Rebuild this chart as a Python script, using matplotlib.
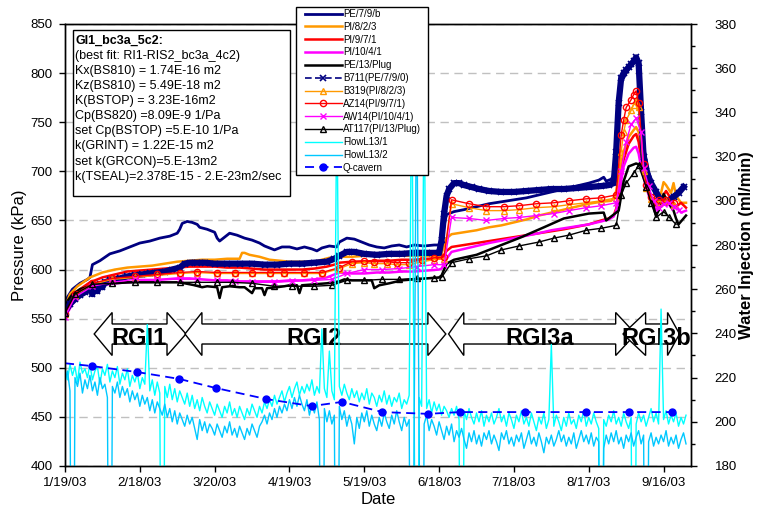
import datetime as dt
import numpy as np
import matplotlib
matplotlib.use("Agg")
import matplotlib.pyplot as plt
from matplotlib.patches import Polygon, Rectangle
from matplotlib.ticker import MultipleLocator

plt.rcParams['font.family'] = ['Liberation Sans', 'DejaVu Sans']

# ---------------- data (x = days since 1/19/03) ----------------
start_date = dt.date(2003, 1, 19)
x_tick_days = [0, 30, 60, 90, 120, 150, 180, 210, 240]
x_tick_labels = ['1/19/03', '2/18/03', '3/20/03', '4/19/03', '5/19/03',
                 '6/18/03', '7/18/03', '8/17/03', '9/16/03']

pe79b_days = [0, 1, 3, 6, 9, 10, 11, 14, 18, 22,
              26, 30, 34, 38, 42, 45, 46, 47, 49, 51,
              53, 54, 57, 60, 61, 62, 64, 66, 69, 72,
              75, 78, 80, 82, 84, 87, 90, 93, 96, 99,
              101, 103, 106, 109, 110, 113, 116, 119, 122, 125,
              128, 131, 134, 137, 140, 144, 148, 151, 152, 153,
              156, 160, 165, 170, 175, 180, 185, 190, 195, 200,
              205, 210, 214, 216, 217, 219, 220, 221, 222, 223,
              225, 227, 229, 230, 231, 232, 234, 236, 238, 240,
              242, 244, 246, 248]
pe79b_vals = [562, 572, 580, 586, 590, 592, 605, 609, 616, 619,
              623, 627, 629, 632, 634, 637, 641, 647, 649, 648,
              646, 643, 641, 638, 632, 629, 633, 637, 635, 632,
              630, 627, 624, 622, 620, 623, 623, 621, 623, 621,
              619, 622, 624, 623, 628, 632, 631, 628, 625, 623,
              622, 624, 625, 623, 625, 624, 625, 625, 645, 656,
              659, 661, 664, 667, 669, 671, 673, 676, 679, 682,
              685, 688, 691, 694, 690, 692, 696, 710, 760, 790,
              800, 808, 815, 812, 770, 725, 700, 684, 674, 668,
              672, 676, 680, 685]

pi823_days = [0, 2, 5, 10, 15, 20, 25, 30, 35, 40,
              45, 50, 55, 60, 65, 70, 71, 72, 74, 78,
              82, 86, 90, 95, 100, 106, 110, 115, 120, 130,
              140, 150, 151, 152, 153, 155, 160, 165, 170, 175,
              180, 185, 190, 195, 200, 205, 210, 215, 219, 220,
              221, 222, 224, 226, 228, 229, 230, 231, 233, 235,
              237, 239, 240, 241, 243, 244, 245, 247, 249]
pi823_vals = [562, 575, 583, 592, 597, 600, 602, 603, 604, 606,
              608, 609, 610, 610, 611, 611, 617, 617, 615, 613,
              610, 609, 608, 608, 608, 612, 613, 613, 614, 614,
              614, 614, 616, 625, 632, 636, 638, 640, 643, 645,
              648, 651, 655, 658, 661, 664, 667, 669, 670, 673,
              680, 695, 720, 735, 742, 745, 740, 715, 688, 672,
              668, 678, 689, 686, 678, 688, 675, 668, 668]

pi971_days = [0, 1, 3, 6, 10, 15, 20, 25, 30, 35,
              40, 45, 50, 55, 60, 65, 70, 75, 80, 85,
              90, 95, 100, 105, 108, 110, 115, 120, 125, 130,
              135, 140, 145, 150, 151, 152, 153, 155, 160, 165,
              170, 180, 190, 195, 200, 210, 215, 218, 220, 221,
              222, 223, 224, 226, 228, 229, 230, 231, 233, 235,
              237, 239, 241, 243, 245, 247, 249]
pi971_vals = [556, 563, 572, 580, 587, 592, 595, 598, 599, 600,
              601, 602, 603, 603, 603, 602, 602, 601, 600, 600,
              600, 600, 601, 603, 605, 607, 608, 608, 609, 609,
              610, 610, 611, 611, 612, 615, 619, 623, 625, 627,
              629, 633, 637, 639, 641, 646, 650, 652, 655, 662,
              675, 695, 712, 728, 736, 738, 730, 712, 688, 672,
              665, 672, 680, 672, 664, 668, 663]

pi1041_days = pi971_days
pi1041_vals = [548, 556, 565, 573, 580, 584, 586, 587, 588, 589,
               590, 591, 591, 590, 589, 589, 588, 588, 588, 588,
               589, 589, 590, 592, 595, 597, 596, 596, 597, 597,
               598, 598, 599, 600, 601, 606, 611, 618, 621, 624,
               627, 632, 637, 640, 642, 646, 649, 651, 654, 660,
               672, 690, 705, 718, 724, 725, 718, 704, 684, 668,
               661, 668, 671, 663, 665, 658, 660]

pe13_days = [0, 1, 3, 6, 10, 15, 20, 25, 30, 35,
             40, 45, 48, 52, 55, 57, 61, 62, 63, 66,
             70, 72, 75, 76, 79, 80, 81, 85, 88, 90,
             93, 94, 95, 100, 105, 110, 112, 115, 120, 123,
             124, 126, 130, 135, 140, 145, 150, 151, 153, 156,
             165, 175, 183, 192, 200, 210, 216, 217, 218, 222,
             224, 226, 229, 231, 233, 235, 237, 239, 240, 242,
             244, 245, 246, 248, 249]
pe13_vals = [560, 568, 575, 580, 583, 585, 586, 587, 587, 587,
             587, 587, 586, 584, 582, 583, 582, 571, 582, 583,
             582, 582, 576, 581, 581, 574, 581, 582, 583, 584,
             584, 576, 584, 585, 586, 588, 590, 589, 589, 589,
             581, 584, 586, 589, 590, 591, 592, 594, 606, 610,
             615, 625, 633, 643, 652, 657, 658, 650, 652, 660,
             690, 705, 708, 706, 690, 672, 655, 665, 677, 668,
             660, 652, 646, 652, 655]

b711_days = [0, 2, 4, 6, 8, 10, 11, 12, 13, 14,
             15, 16, 18, 20, 22, 25, 28, 31, 34, 37,
             40, 43, 46, 48, 50, 53, 56, 60, 65, 70,
             75, 80, 85, 90, 95, 100, 105, 108, 110, 113,
             116, 120, 125, 130, 135, 140, 145, 150, 151, 152,
             153, 154, 156, 158, 160, 163, 166, 170, 175, 180,
             185, 190, 195, 200, 205, 210, 215, 218, 220, 221,
             222, 223, 224, 225, 226, 227, 228, 229, 230, 231,
             232, 233, 235, 237, 239, 240, 242, 244, 246, 248]
b711_vals = [557, 565, 570, 574, 577, 580, 575, 583, 578, 585,
             582, 587, 589, 590, 591, 593, 594, 595, 596, 597,
             598, 600, 602, 606, 607, 607, 607, 606, 606, 606,
             606, 605, 605, 606, 606, 607, 608, 611, 614, 618,
             618, 616, 615, 616, 616, 617, 617, 617, 630, 657,
             675, 682, 688, 688, 686, 684, 682, 680, 679, 679,
             680, 681, 682, 682, 683, 684, 685, 686, 688, 720,
             770, 795, 800, 803, 806, 809, 812, 816, 810, 760,
             715, 700, 688, 679, 670, 668, 670, 674, 678, 684]

meas_days = [0, 4, 11, 19, 28, 37, 46, 53, 61, 68,
             75, 82, 88, 96, 103, 110, 115, 120, 124, 129,
             133, 138, 143, 148, 152, 155, 162, 169, 176, 182,
             189, 196, 202, 209, 215, 221, 223, 224, 225, 227,
             228, 229, 230, 232, 233, 235, 238, 241, 244]
b319_vals = [555, 574, 585, 590, 592, 594, 596, 597, 596, 596,
             596, 596, 596, 596, 596, 601, 606, 607, 606, 606,
             605, 605, 608, 610, 611, 667, 663, 660, 660, 661,
             663, 664, 666, 668, 670, 673, 720, 740, 752, 762,
             768, 772, 765, 700, 683, 672, 669, 670, 666]
az14_vals = [555, 575, 586, 591, 593, 595, 597, 598, 597, 597,
             597, 597, 597, 597, 597, 602, 608, 609, 608, 608,
             607, 607, 610, 612, 613, 671, 667, 664, 664, 665,
             667, 668, 670, 672, 673, 676, 737, 752, 765, 773,
             778, 782, 770, 707, 686, 674, 671, 671, 668]

aw14_days = [0, 4, 11, 19, 28, 37, 46, 53, 61, 68,
             75, 84, 91, 100, 107, 113, 120, 127, 134, 141,
             148, 152, 155, 162, 169, 176, 182, 189, 196, 202,
             209, 215, 221, 223, 225, 227, 229, 231, 232, 234,
             236, 238, 240, 242, 244, 246]
aw14_vals = [552, 572, 583, 587, 590, 590, 590, 590, 589, 588,
             587, 587, 588, 589, 590, 596, 600, 600, 601, 603,
             605, 605, 653, 652, 650, 652, 653, 655, 657, 660,
             663, 665, 668, 700, 730, 748, 754, 740, 703, 685,
             670, 663, 667, 668, 664, 661]

at117_days = [0, 4, 11, 19, 28, 37, 46, 53, 61, 67,
              75, 84, 91, 100, 107, 113, 120, 127, 134, 141,
              148, 151, 155, 162, 169, 175, 182, 190, 196, 202,
              209, 215, 221, 223, 225, 228, 230, 233, 235, 237,
              240, 242, 245]
at117_vals = [556, 575, 585, 586, 587, 587, 587, 587, 587, 587,
              586, 583, 583, 583, 584, 589, 589, 590, 590, 591,
              591, 592, 607, 611, 614, 620, 624, 628, 632, 635,
              640, 642, 645, 676, 688, 698, 706, 684, 668, 653,
              659, 654, 646]

# water injection (ml/min), one reading per day, days 0..249
flow1_vals = [224, 219, 226, 221, 225, 218, 227, 222, 224, 220,
              226, 219, 223, 225, 217, 224, 221, 226, 218, 223,
              220, 225, 217, 222, 219, 224, 216, 221, 218, 222,
              215, 220, 217, 244, 214, 219, 212, 218, 213, 0,
              216, 211, 217, 210, 215, 209, 214, 211, 208, 213,
              207, 212, 206, 210, 205, 211, 207, 204, 209, 206,
              203, 208, 205, 202, 207, 204, 209, 203, 206, 202,
              207, 204, 201, 206, 203, 208, 205, 202, 207, 204,
              209, 206, 210, 207, 212, 208, 211, 214, 209, 213,
              216, 211, 215, 218, 212, 216, 213, 217, 214, 219,
              212, 216, 213, 242, 215, 211, 232, 214, 210, 350,
              216, 212, 217, 213, 210, 215, 211, 214, 209, 213,
              210, 215, 208, 213, 211, 207, 212, 209, 214, 208,
              212, 207, 211, 209, 213, 206, 210, 208, 212, 360,
              209, 0, 211, 207, 355, 206, 210, 204, 209, 205,
              208, 203, 207, 205, 202, 206, 203, 207, 201, 0,
              205, 201, 206, 202, 199, 204, 200, 205, 198, 203,
              200, 204, 199, 202, 206, 200, 203, 198, 204, 201,
              197, 203, 200, 205, 199, 202, 198, 204, 200, 196,
              202, 199, 204, 197, 201, 235, 198, 203, 200, 196,
              202, 198, 204, 199, 201, 197, 203, 200, 205, 198,
              202, 199, 204, 200, 197, 0, 201, 198, 203, 200,
              205, 199, 202, 198, 204, 200, 197, 202, 0, 199,
              204, 200, 203, 198, 202, 206, 200, 204, 199, 251,
              201, 205, 199, 203, 200, 204, 198, 202, 199, 203]
flow2_vals = [218, 223, 214, 0, 220, 216, 222, 213, 219, 215,
              221, 214, 218, 212, 220, 215, 217, 211, 0, 216,
              213, 218, 211, 216, 212, 215, 209, 214, 210, 213,
              207, 212, 208, 211, 205, 210, 204, 209, 206, 203,
              208, 202, 206, 200, 205, 199, 204, 201, 198, 203,
              199, 202, 197, 192, 201, 196, 200, 195, 199, 197,
              194, 199, 196, 193, 198, 195, 200, 194, 197, 193,
              198, 195, 192, 197, 194, 199, 196, 193, 198, 200,
              203, 199, 204, 201, 206, 202, 207, 204, 208, 205,
              210, 206, 211, 207, 212, 208, 205, 210, 203, 208,
              204, 209, 201, 0, 206, 200, 205, 199, 203, 0,
              207, 201, 205, 198, 203, 199, 190, 202, 197, 204,
              200, 205, 198, 203, 199, 196, 202, 198, 204, 200,
              197, 203, 199, 205, 200, 196, 202, 198, 201, 0,
              200, 360, 197, 0, 199, 203, 196, 201, 198, 194,
              200, 196, 192, 198, 194, 199, 191, 196, 193, 197,
              192, 188, 195, 191, 196, 190, 194, 189, 195, 192,
              196, 190, 194, 191, 187, 195, 192, 196, 190, 193,
              189, 194, 191, 195, 188, 192, 196, 190, 193, 189,
              195, 191, 186, 193, 190, 194, 189, 192, 196, 191,
              194, 189, 193, 190, 195, 188, 192, 196, 191, 194,
              190, 195, 189, 193, 191, 0, 188, 194, 190, 195,
              191, 196, 190, 193, 188, 194, 191, 195, 189, 193,
              196, 190, 194, 0, 191, 195, 189, 193, 190, 194,
              191, 196, 189, 193, 190, 194, 188, 192, 195, 190]
flow_days = np.arange(len(flow1_vals))

qcav_days = [0, 10.9, 29.0, 45.8, 60.4, 80.7, 98.9, 111.1, 127.3, 145.5,
             158.5, 184.4, 208.8, 226.2, 243.2]
qcav_vals = [226.5, 225.2, 222.5, 219.4, 215.3, 210.3, 207.1, 209.0, 204.4, 203.6,
             204.4, 204.4, 204.4, 204.4, 204.4]

# period arrows
periods = ['RGI1', 'RGI2', 'RGI3a', 'RGI3b']
period_left_tip = [11.7, 48.1, 153.8, 223.7]
period_body_start = [18.9, 54.9, 159.9, 232.8]
period_body_end = [40.9, 145.5, 220.8, 241.6]
period_right_tip = [48.5, 152.7, 228.8, 246.4]
period_label_x = [29.6, 100.0, 190.3, 237.0]

info_lines = ['GI1_bc3a_5c2:',
              '(best fit: RI1-RIS2_bc3a_4c2)',
              'Kx(BS810) = 1.74E-16 m2',
              'Kz(BS810) = 5.49E-18 m2',
              'K(BSTOP) = 3.23E-16m2',
              'Cp(BS820) =8.09E-9 1/Pa',
              'set Cp(BSTOP) =5.E-10 1/Pa',
              'k(GRINT) = 1.22E-15 m2',
              'set k(GRCON)=5.E-13m2',
              'k(TSEAL)=2.378E-15 - 2.E-23m2/sec']

# ---------------- figure ----------------
W, H = 761, 512
fig = plt.figure(figsize=(W / 100, H / 100), dpi=100)
ax = fig.add_axes([65 / W, 46 / H, 626 / W, 442 / H])
ax.set_xlim(0, 251)
ax.set_ylim(400, 850)
ax.set_yticks(np.arange(400, 851, 50))
ax.yaxis.grid(True, linestyle=(0, (6, 4)), color='#C0C0C0', linewidth=1)
ax.set_axisbelow(True)

NAVY = '#000080'
ORANGE = '#FF9900'

yc, hb, hh = 534.4, 10.2, 21.9
for lab, xl, xbl, xbr, xr, xt in zip(periods, period_left_tip, period_body_start,
                                      period_body_end, period_right_tip, period_label_x):
    pts = [(xl, yc), (xbl, yc + hh), (xbl, yc + hb), (xbr, yc + hb), (xbr, yc + hh),
           (xr, yc), (xbr, yc - hh), (xbr, yc - hb), (xbl, yc - hb), (xbl, yc - hh)]
    ax.add_patch(Polygon(pts, closed=True, fc='white', ec='black', lw=1, zorder=1.5))
    ax.text(xt, 523.2, lab, ha='center', va='baseline', fontsize=17,
            fontweight='bold', zorder=1.6)

h = []
h += ax.plot(pe79b_days, pe79b_vals, color=NAVY, lw=2.0, label='PE/7/9/b', zorder=2)
h += ax.plot(pi823_days, pi823_vals, color=ORANGE, lw=1.8, label='PI/8/2/3', zorder=2)
h += ax.plot(pi971_days, pi971_vals, color='#FF0000', lw=1.8, label='PI/9/7/1', zorder=2)
h += ax.plot(pi1041_days, pi1041_vals, color='#FF00FF', lw=1.8, label='PI/10/4/1', zorder=2)
h += ax.plot(pe13_days, pe13_vals, color='black', lw=1.8, label='PE/13/Plug', zorder=2)
ax.plot(b711_days, b711_vals, color=NAVY, lw=4.5, zorder=2.1, solid_joinstyle='round')
h += ax.plot(b711_days, b711_vals, color=NAVY, lw=1.2, ls=(0, (4, 2)), marker='x', ms=4.5,
             mew=1.2, label='B711(PE/7/9/0)', zorder=2.2)
h += ax.plot(meas_days, b319_vals, color=ORANGE, lw=1.0, marker='^', ms=4.5, mfc='none',
             mew=1.0, label='B319(PI/8/2/3)', zorder=2.3)
h += ax.plot(meas_days, az14_vals, color='#FF0000', lw=1.0, marker='o', ms=4.5, mfc='none',
             mew=1.0, label='AZ14(PI/9/7/1)', zorder=2.4)
h += ax.plot(aw14_days, aw14_vals, color='#FF00FF', lw=1.0, marker='x', ms=5, mew=1.0,
             label='AW14(PI/10/4/1)', zorder=2.5)
h += ax.plot(at117_days, at117_vals, color='black', lw=1.0, marker='^', ms=4.5, mfc='none',
             mew=1.0, label='AT117(PI/13/Plug)', zorder=2.6)

ax2 = ax.twinx()
ax2.set_ylim(180, 380)
h += ax2.plot(flow_days, flow1_vals, color='#00FFFF', lw=1.0, label='FlowL13/1')
h += ax2.plot(flow_days, flow2_vals, color='#00C8FF', lw=1.0, label='FlowL13/2')
h += ax2.plot(qcav_days, qcav_vals, color='#0000FF', lw=1.3, ls=(0, (5, 3)), marker='o',
              ms=5, markevery=list(range(1, len(qcav_days))), label='Q-cavern')

ax.set_xticks(x_tick_days)
ax.set_xticklabels(x_tick_labels)
ax.tick_params(axis='x', direction='out', length=4, width=1, labelsize=9.5, pad=4)
ax.tick_params(axis='y', direction='out', length=4, width=1, labelsize=9.5, pad=5)
ax2.yaxis.set_major_locator(MultipleLocator(20))
ax2.yaxis.set_minor_locator(MultipleLocator(10))
ax2.tick_params(axis='y', which='major', direction='out', length=4, width=1,
                labelsize=9.5, pad=13)
ax2.tick_params(axis='y', which='minor', direction='out', length=3, width=1)
for a in (ax, ax2):
    for s in a.spines.values():
        s.set_linewidth(1.0)
        s.set_color('black')

fig.text(20 / W, 1 - 245 / H, 'Pressure (kPa)', rotation=90, ha='center', va='center',
         fontsize=12)
fig.text(378 / W, 1 - 499 / H, 'Date', ha='center', va='center', fontsize=12)
fig.text(747 / W, 1 - 245 / H, 'Water Injection (ml/min)', rotation=90, ha='center',
         va='center', fontsize=12, fontweight='bold')

# info box
rect = Rectangle((73 / W, 1 - 196 / H), (290 - 73) / W, (196 - 30) / H,
                 transform=fig.transFigure, fc='white', ec='black', lw=1, zorder=3)
fig.add_artist(rect)
for i, line in enumerate(info_lines):
    fig.text(75 / W, 1 - (40.7 + 15.1 * i) / H, line, ha='left', va='center', fontsize=9,
             fontweight='bold' if i == 0 else 'normal', zorder=4)

# legend: explicit frame + frameless legend inside
lrect = Rectangle((296 / W, 1 - 175 / H), (428 - 296) / W, (175 - 7) / H,
                  transform=fig.transFigure, fc='white', ec='black', lw=1, zorder=4.5)
fig.add_artist(lrect)
leg = fig.legend(handles=h, labels=[l.get_label() for l in h], loc='upper left',
                 bbox_to_anchor=(305 / W, 1 - 9 / H), bbox_transform=fig.transFigure,
                 fontsize=7, frameon=False, borderpad=0, labelspacing=0.29,
                 handlelength=3.8, handletextpad=0.1, borderaxespad=0, numpoints=1)
leg.set_zorder(5)

fig.savefig('out.png', dpi=100)
